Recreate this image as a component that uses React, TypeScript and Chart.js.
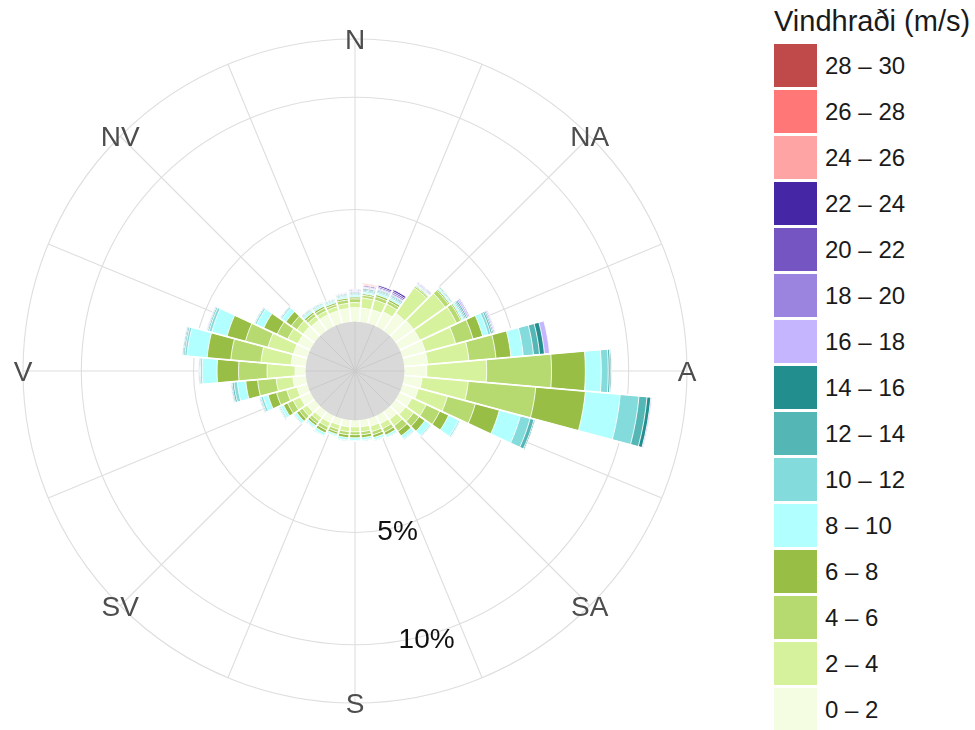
import React, { useEffect, useRef } from "react";
import { Chart, registerables } from "chart.js";

Chart.register(...registerables);

// Wind directions (degrees, bar centres)
const directions = [0, 10, 20, 30, 40, 50, 60, 70, 80, 90, 100, 110, 120, 130, 140, 150, 160, 170,
  180, 190, 200, 210, 220, 230, 240, 250, 260, 270, 280, 290, 300, 310, 320, 330, 340, 350];

// Speed classes (m/s)
const speedBins = ["0 – 2", "2 – 4", "4 – 6", "6 – 8", "8 – 10", "10 – 12", "12 – 14", "14 – 16",
  "16 – 18", "18 – 20", "20 – 22", "22 – 24", "24 – 26", "26 – 28", "28 – 30"];

const binColors = ["#F4FCE2", "#D7F29D", "#B6D970", "#98BE45", "#B1FFFF", "#84DBDB", "#55B6B6", "#228E8E",
  "#C5B5FF", "#9A84E0", "#7455C2", "#4527A6", "#FFA4A4", "#FF7777", "#C04949"];

// Frequency (%) per direction for each speed class
const s0_2 = [0.62, 0.62, 0.63, 0.72, 0.95, 1.00, 1.00, 1.05, 1.05, 1.00, 0.80, 0.73, 0.60, 0.56, 0.45, 0.40, 0.35, 0.30,
  0.29, 0.30, 0.30, 0.35, 0.35, 0.42, 0.50, 0.48, 0.58, 0.47, 0.66, 0.64, 0.62, 0.63, 0.58, 0.58, 0.58, 0.60];
const s2_4 = [0.23, 0.45, 0.45, 0.38, 1.40, 1.72, 1.80, 1.40, 1.85, 2.67, 2.07, 1.34, 0.71, 0.44, 0.35, 0.25, 0.25, 0.22,
  0.22, 0.22, 0.20, 0.22, 0.20, 0.25, 0.35, 0.48, 0.75, 1.25, 1.35, 1.18, 0.50, 0.35, 0.21, 0.19, 0.19, 0.23];
const s4_6 = [0.17, 0.12, 0.16, 0.14, 0.08, 0.20, 0.22, 0.80, 1.21, 2.89, 3.02, 1.29, 0.67, 0.31, 0.30, 0.18, 0.15, 0.14,
  0.13, 0.14, 0.13, 0.16, 0.14, 0.18, 0.28, 0.47, 0.83, 1.27, 1.35, 1.04, 0.52, 0.30, 0.14, 0.14, 0.11, 0.15];
const s6_8 = [0.08, 0.07, 0.09, 0.09, 0.04, 0.06, 0.06, 0.45, 0.67, 1.51, 2.22, 1.11, 0.44, 0.31, 0.25, 0.14, 0.13, 0.13,
  0.14, 0.13, 0.10, 0.13, 0.11, 0.14, 0.20, 0.39, 0.53, 0.96, 1.06, 0.85, 0.66, 0.30, 0.09, 0.09, 0.08, 0.08];
const s8_10 = [0.08, 0.07, 0.08, 0.07, 0.03, 0.05, 0.08, 0.25, 0.55, 0.71, 1.56, 0.97, 0.49, 0.27, 0.15, 0.10, 0.10, 0.10,
  0.11, 0.10, 0.08, 0.12, 0.09, 0.11, 0.14, 0.23, 0.38, 0.66, 0.90, 0.71, 0.35, 0.22, 0.08, 0.08, 0.07, 0.07];
const s10_12 = [0.05, 0.06, 0.06, 0.06, 0.03, 0.04, 0.06, 0.12, 0.46, 0.31, 0.84, 0.45, 0.06, 0.05, 0.04, 0.03, 0.03, 0.03,
  0.02, 0.03, 0.02, 0.03, 0.03, 0.04, 0.05, 0.10, 0.15, 0.08, 0.10, 0.12, 0.08, 0.06, 0.05, 0.05, 0.05, 0.05];
const s12_14 = [0.04, 0.05, 0.05, 0.05, 0.02, 0.04, 0.06, 0.08, 0.27, 0.09, 0.36, 0.18, 0.02, 0.02, 0.01, 0.01, 0.01, 0.01,
  0, 0.01, 0, 0.01, 0.01, 0.01, 0.03, 0.04, 0.08, 0.04, 0.06, 0.06, 0.03, 0.03, 0.03, 0.03, 0.03, 0.04];
const s14_16 = [0.04, 0.05, 0.04, 0.04, 0.02, 0.01, 0.06, 0.05, 0.22, 0.05, 0.17, 0.05, 0, 0, 0, 0, 0, 0,
  0, 0, 0, 0, 0, 0, 0.01, 0.03, 0.04, 0.03, 0.04, 0.03, 0.01, 0.01, 0.02, 0.02, 0.02, 0.03];
const s16_18 = [0.04, 0.03, 0.03, 0.04, 0.04, 0.01, 0.08, 0.06, 0.23, 0, 0.05, 0, 0, 0, 0, 0, 0, 0,
  0, 0, 0, 0, 0, 0, 0, 0.01, 0.03, 0.01, 0.02, 0.03, 0, 0, 0.01, 0.01, 0.01, 0.02];
const s18_20 = [0.04, 0.03, 0.04, 0.07, 0.03, 0, 0.05, 0.03, 0, 0, 0, 0, 0, 0, 0, 0, 0, 0,
  0, 0, 0, 0, 0, 0, 0, 0, 0, 0, 0, 0, 0, 0, 0, 0, 0.01, 0.03];
const s20_22 = [0.04, 0.03, 0.06, 0.07, 0, 0, 0, 0, 0, 0, 0, 0, 0, 0, 0, 0, 0, 0,
  0, 0, 0, 0, 0, 0, 0, 0, 0, 0, 0, 0, 0, 0, 0, 0, 0, 0.01];
const s22_24 = [0, 0.05, 0.07, 0.08, 0, 0, 0, 0, 0, 0, 0, 0, 0, 0, 0, 0, 0, 0,
  0, 0, 0, 0, 0, 0, 0, 0, 0, 0, 0, 0, 0, 0, 0, 0, 0, 0];
const s24_26 = [0, 0.04, 0, 0, 0, 0, 0, 0, 0, 0, 0, 0, 0, 0, 0, 0, 0, 0,
  0, 0, 0, 0, 0, 0, 0, 0, 0, 0, 0, 0, 0, 0, 0, 0, 0, 0];
const s26_28 = [0, 0.04, 0, 0, 0, 0, 0, 0, 0, 0, 0, 0, 0, 0, 0, 0, 0, 0,
  0, 0, 0, 0, 0, 0, 0, 0, 0, 0, 0, 0, 0, 0, 0, 0, 0, 0];
const s28_30 = [0, 0, 0, 0, 0, 0, 0, 0, 0, 0, 0, 0, 0, 0, 0, 0, 0, 0,
  0, 0, 0, 0, 0, 0, 0, 0, 0, 0, 0, 0, 0, 0, 0, 0, 0, 0];

const binSeries = [s0_2, s2_4, s4_6, s6_8, s8_10, s10_12, s12_14, s14_16, s16_18, s18_20, s20_22,
  s22_24, s24_26, s26_28, s28_30];

// Axis texts
const compassLabels = ["N", "NA", "A", "SA", "S", "SV", "V", "NV"];
const radialTicks = [5, 10];
const radialTickLabels = ["5%", "10%"];
const legendTitle = "Vindhraði (m/s)";

const SCALE_MIN = -2.2;
const SCALE_MAX = 12.6;
const FONT = '"Liberation Sans", Arial, Helvetica, sans-serif';
const GRID = "#DEDEDE";

const rosePlugin = {
  id: "roseDecor",
  beforeDatasetsDraw(chart: any) {
    const s = chart.scales.r;
    const ctx = chart.ctx as CanvasRenderingContext2D;
    const cx = s.xCenter, cy = s.yCenter;
    const R = s.getDistanceFromCenterForValue(SCALE_MAX);
    ctx.save();
    ctx.strokeStyle = GRID;
    ctx.lineWidth = 1.1;
    [...radialTicks, SCALE_MAX].forEach((v) => {
      ctx.beginPath();
      ctx.arc(cx, cy, s.getDistanceFromCenterForValue(v), 0, Math.PI * 2);
      ctx.stroke();
    });
    ctx.beginPath();
    for (let i = 0; i < 16; i++) {
      const a = ((i * 22.5 - 90) * Math.PI) / 180;
      ctx.moveTo(cx, cy);
      ctx.lineTo(cx + R * Math.cos(a), cy + R * Math.sin(a));
    }
    ctx.stroke();
    ctx.restore();
  },
  afterDatasetsDraw(chart: any) {
    const s = chart.scales.r;
    const ctx = chart.ctx as CanvasRenderingContext2D;
    const cx = s.xCenter, cy = s.yCenter;
    const R = s.getDistanceFromCenterForValue(SCALE_MAX);
    const r0 = s.getDistanceFromCenterForValue(0);
    ctx.save();

    // white gaps between neighbouring bars
    const top = chart.getDatasetMeta(chart.data.datasets.length - 1).data as any[];
    const n = top.length;
    ctx.strokeStyle = "#FFFFFF";
    ctx.lineWidth = 1.8;
    ctx.beginPath();
    for (let i = 0; i < n; i++) {
      const a = top[i].startAngle;
      const len = Math.max(top[i].outerRadius, top[(i + n - 1) % n].outerRadius) - 0.5;
      ctx.moveTo(cx + r0 * Math.cos(a), cy + r0 * Math.sin(a));
      ctx.lineTo(cx + len * Math.cos(a), cy + len * Math.sin(a));
    }
    ctx.stroke();

    ctx.fillStyle = "#D9D9D9";
    ctx.beginPath();
    ctx.arc(cx, cy, r0, 0, Math.PI * 2);
    ctx.fill();
    ctx.strokeStyle = "#CBCBCB";
    ctx.lineWidth = 1;
    ctx.beginPath();
    for (let i = 0; i < 16; i++) {
      const a = ((i * 22.5 - 90) * Math.PI) / 180;
      ctx.moveTo(cx, cy);
      ctx.lineTo(cx + r0 * Math.cos(a), cy + r0 * Math.sin(a));
    }
    ctx.stroke();

    // compass labels
    ctx.font = `28px ${FONT}`;
    ctx.fillStyle = "#4D4D4D";
    ctx.textAlign = "center";
    ctx.textBaseline = "alphabetic";
    compassLabels.forEach((lab, i) => {
      const a = ((i * 45 - 90) * Math.PI) / 180;
      const x = cx + R * Math.cos(a);
      const y = cy + R * Math.sin(a);
      ctx.fillText(lab, x, y + 10);
    });

    // radial tick labels
    ctx.fillStyle = "#111111";
    radialTicks.forEach((v, i) => {
      const r = s.getDistanceFromCenterForValue(v) + 3;
      const a = ((165 - 90) * Math.PI) / 180;
      ctx.fillText(radialTickLabels[i], cx + r * Math.cos(a), cy + r * Math.sin(a) + 10);
    });
    ctx.restore();
  },
};

export default function App() {
  const canvasRef = useRef<HTMLCanvasElement | null>(null);

  useEffect(() => {
    document.body.style.margin = "0";
    const canvas = canvasRef.current;
    if (!canvas) return;

    // cumulative stacks; first dataset (smallest) is drawn on top
    let running = directions.map(() => 0);
    const datasets = binSeries.map((series, b) => {
      running = running.map((v, i) => v + series[i]);
      return {
        label: speedBins[b],
        data: running.slice(),
        backgroundColor: binColors[b],
        borderColor: "#FFFFFF",
        borderWidth: 0.9,
      };
    });

    const chart = new Chart(canvas, {
      type: "polarArea",
      data: { labels: directions.map((d) => String(d)), datasets },
      options: {
        animation: false,
        responsive: true,
        maintainAspectRatio: false,
        events: [],
        layout: { padding: { left: 23, right: 23, top: 39, bottom: 39 } },
        plugins: { legend: { display: false }, tooltip: { enabled: false } },
        scales: {
          r: {
            type: "radialLinear",
            min: SCALE_MIN,
            max: SCALE_MAX,
            startAngle: -5,
            ticks: { display: false },
            grid: { display: false },
            angleLines: { display: false },
            pointLabels: { display: false },
          },
        },
      } as any,
      plugins: [rosePlugin],
    });
    return () => chart.destroy();
  }, []);

  return (
    <div style={{ position: "absolute", left: 0, top: 0, width: 975, height: 730, background: "#FFFFFF", fontFamily: FONT }}>
      <div style={{ position: "absolute", left: 0, top: 0, width: 710, height: 742 }}>
        <canvas ref={canvasRef} />
      </div>
      <div style={{ position: "absolute", left: 774, top: 7, fontSize: 29, lineHeight: "29px", color: "#1A1A1A", whiteSpace: "nowrap" }}>
        {legendTitle}
      </div>
      {speedBins.slice().reverse().map((lab, i) => {
        const colour = binColors[binColors.length - 1 - i];
        return (
          <div key={lab} style={{ position: "absolute", left: 774, top: 44 + i * 46, height: 43, display: "flex", alignItems: "center" }}>
            <div style={{ width: 43, height: 43, background: colour }} />
            <div style={{ marginLeft: 8, fontSize: 24, color: "#1A1A1A", whiteSpace: "nowrap" }}>{lab}</div>
          </div>
        );
      })}
    </div>
  );
}
